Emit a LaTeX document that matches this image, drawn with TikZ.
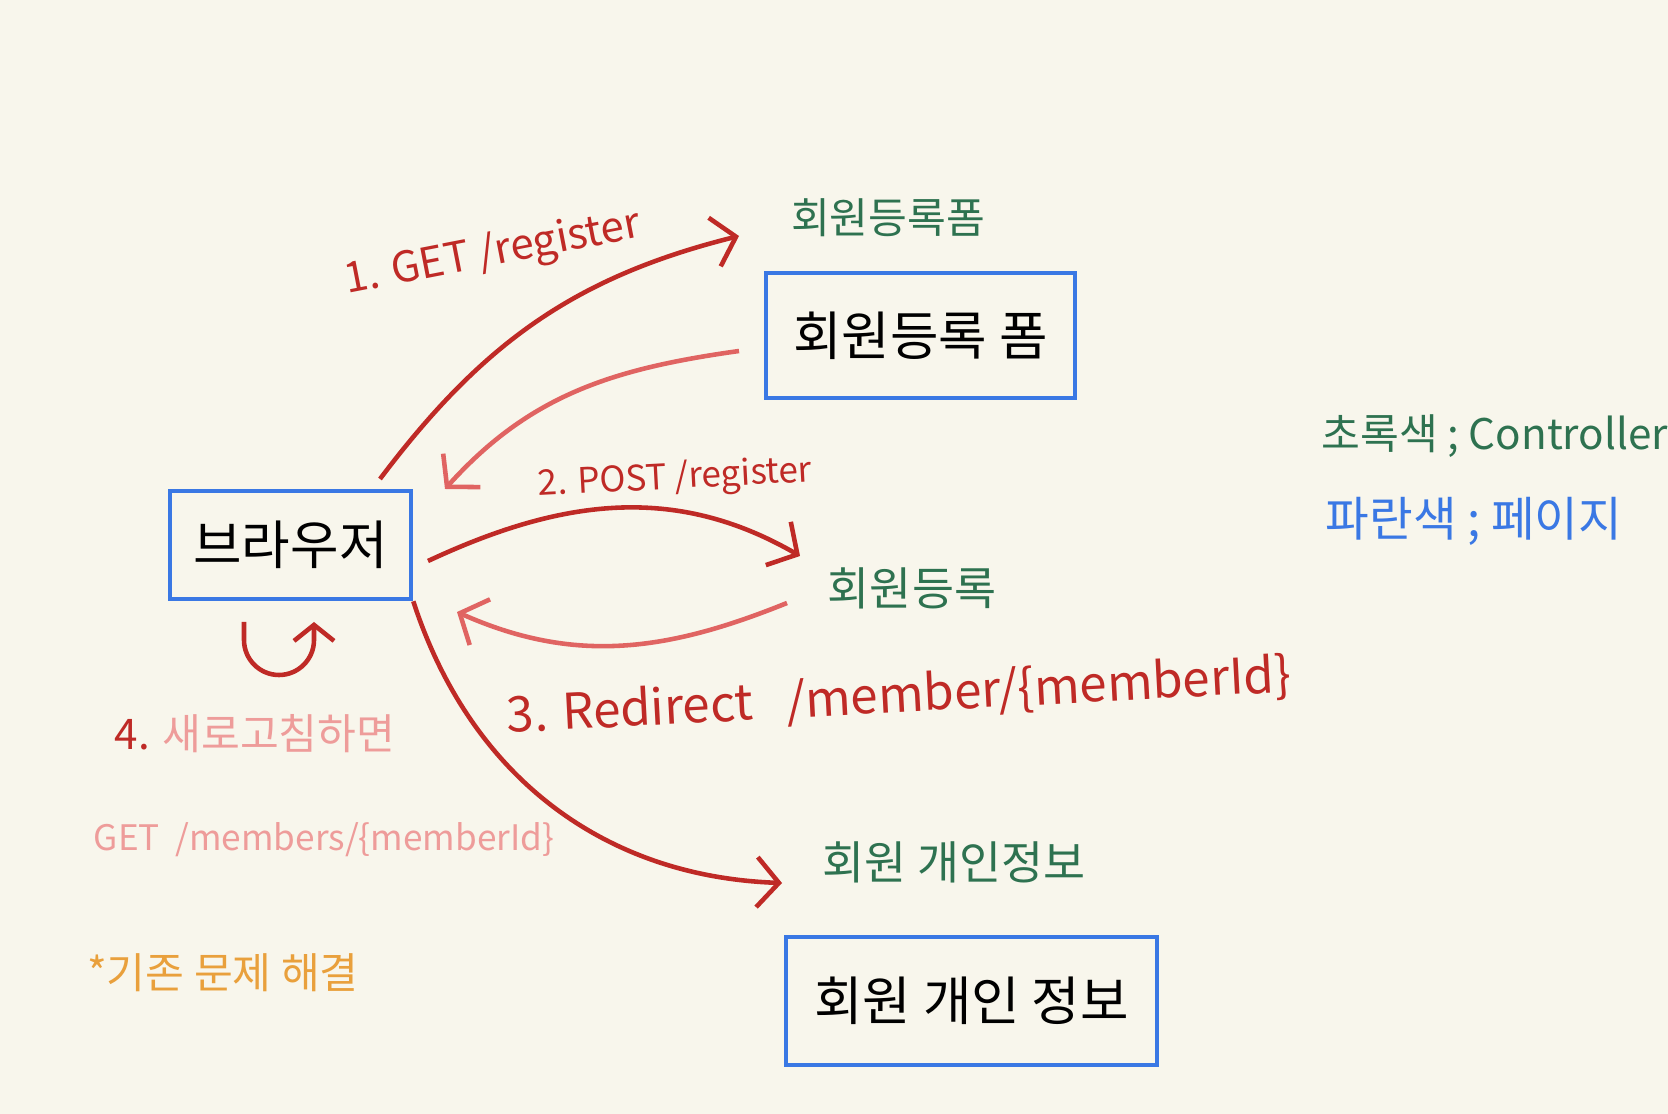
\documentclass[tikz,border=0pt]{standalone}
\usepackage{fontspec}
\setmainfont{Noto Sans CJK KR}
\usetikzlibrary{arrows.meta,positioning}

\definecolor{paper}{HTML}{F8F6EC}
\definecolor{darkred}{HTML}{BF2A26}
\definecolor{lightred}{HTML}{E06462}
\definecolor{ctrlgreen}{HTML}{2E7250}
\definecolor{pageblue}{HTML}{3A78E4}
\definecolor{pink}{HTML}{EE9C9A}
\definecolor{note}{HTML}{E9A03C}

\tikzset{
  page/.style={draw=pageblue, line width=1.3pt, minimum width=#1, inner sep=0pt},
  ctrl/.style={text=ctrlgreen, font=\fontsize{12}{14}\selectfont},
  req/.style={-{Straight Barb[length=2.2mm,width=5mm]}, darkred, line width=1.3pt},
  resp/.style={-{Straight Barb[length=2.2mm,width=5mm]}, lightred, line width=1.3pt},
  reqlabel/.style={text=darkred, font=\fontsize{11}{13}\selectfont}
}

\begin{document}
\begin{tikzpicture}
            \fill[paper] (0,0) rectangle (16.68,11.14);
            \useasboundingbox (0,0) rectangle (16.68,11.14);
            % pages
            \node[page=2.41cm, minimum height=1.08cm, font=\fontsize{15}{17}\selectfont] (browser) at (2.905,5.69) {브라우저};
            \node[page=3.09cm, minimum height=1.25cm, font=\fontsize{15}{17}\selectfont] (form) at (9.205,7.785) {회원등록 폼};
            \node[page=3.71cm, minimum height=1.28cm, font=\fontsize{15}{17}\selectfont] (info) at (9.715,1.13) {회원 개인 정보};
            % controllers
            \node[ctrl] (formctrl) at (8.88,8.96) {회원등록폼};
            \node[ctrl, font=\fontsize{13}{15}\selectfont] (regctrl) at (9.12,5.26) {회원등록};
            \node[ctrl, font=\fontsize{13}{15}\selectfont] (infoctrl) at (9.54,2.52) {회원 개인정보};
            % legend
            \node[ctrl] (legendgreen) at (14.95,6.78) {초록색 ; Controller};
            \node[text=pageblue, font=\fontsize{13.5}{15}\selectfont] (legendblue) at (14.74,5.93) {파란색 ; 페이지};
            % arrows
            \coordinate (getend) at (7.39,8.78);
            \coordinate (formout) at (7.39,7.63);
            \coordinate (postend) at (8.00,5.58);
            \coordinate (regout) at (7.87,5.11);
            \coordinate (redirend) at (7.82,2.31);
            \draw[req] (3.80,6.35) to[out=53,in=194] (getend);
            \draw[resp] (formout) to[out=188,in=48] (4.45,6.25);
            \draw[req] (4.28,5.53) to[out=25,in=150] (postend);
            \draw[resp] (regout) to[out=202,in=-24] (4.57,5.02);
            \draw[req] (browser.south east) to[out=-72,in=178] (redirend);
            % request labels
            \node[reqlabel, rotate=11, font=\fontsize{12}{14}\selectfont] (getlabel) at (4.93,8.60) {1. GET /register};
            \node[reqlabel, rotate=3, font=\fontsize{10}{12}\selectfont] (postlabel) at (6.75,6.35) {2. POST /register};
            \node[reqlabel, rotate=3, font=\fontsize{14}{16}\selectfont] (redirlabel) at (8.99,4.17) {3. Redirect~~~/member/\{memberId\}};
            % refresh
            \draw[-{Straight Barb[length=1.6mm,width=4mm]}, darkred, line width=1.3pt] (2.44,4.92) -- (2.44,4.74) arc(180:360:0.35) -- (3.14,4.92);
            \node[font=\fontsize{12}{14}\selectfont] (refresh) at (2.55,3.80) {\color{darkred}4. \color{pink}새로고침하면};
            \node[text=pink, font=\fontsize{10}{12}\selectfont] (getagain) at (3.24,2.74) {GET~~/members/\{memberId\}};
            \node[text=note, font=\fontsize{12}{14}\selectfont] (solved) at (2.23,1.41) {*기존 문제 해결};
\end{tikzpicture}
\end{document}
